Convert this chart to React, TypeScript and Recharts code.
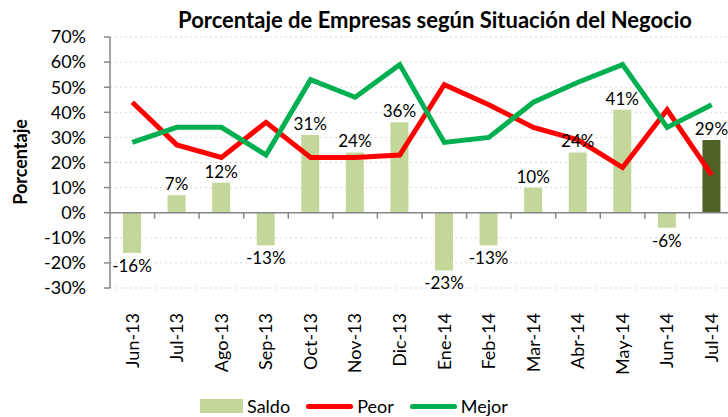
import React from "react";
import {
  ComposedChart,
  Bar,
  Line,
  XAxis,
  YAxis,
  CartesianGrid,
  Legend,
  LabelList,
  Cell,
  ReferenceLine,
} from "recharts";

const months = [
  "Jun-13", "Jul-13", "Ago-13", "Sep-13", "Oct-13", "Nov-13", "Dic-13",
  "Ene-14", "Feb-14", "Mar-14", "Abr-14", "May-14", "Jun-14", "Jul-14",
];
const saldo = [-16, 7, 12, -13, 31, 24, 36, -23, -13, 10, 24, 41, -6, 29];
const peor = [44, 27, 22, 36, 22, 22, 23, 51, 43, 34, 29, 18, 41, 15];
const mejor = [28, 34, 34, 23, 53, 46, 59, 28, 30, 44, 52, 59, 34, 43];
const yTicks = [-30, -20, -10, 0, 10, 20, 30, 40, 50, 60, 70];

const data = months.map((m, i) => ({
  month: m,
  saldo: saldo[i],
  peor: peor[i],
  mejor: mejor[i],
}));

const FONT = "Lato, 'Noto Sans', sans-serif";
const SALDO = "#C4D79B";
const SALDO_LAST = "#4F6228";
const PEOR = "#FF0000";
const MEJOR = "#00B050";
const AXIS = "#868686";

function MonthTick({ x, y, payload }: any) {
  return (
    <text
      x={x}
      y={y}
      transform={`rotate(-90, ${x}, ${y})`}
      textAnchor="end"
      dy="0.35em"
      fontSize={18}
      fill="#000"
      fontFamily={FONT}
    >
      {payload.value}
    </text>
  );
}

function SaldoLabel({ x, y, width, height, value }: any) {
  const neg = value < 0;
  const cx = x + width / 2;
  // height is negative for bars below zero in recharts
  const top = Math.min(y, y + height);
  const bottom = Math.max(y, y + height);
  return (
    <text
      x={cx}
      y={neg ? bottom + 19 : top - 5}
      textAnchor="middle"
      fontSize={17}
      fill="#000"
      fontFamily={FONT}
    >
      {`${value}%`}
    </text>
  );
}

function ZeroAxis({ x1, y1, x2 }: any) {
  const step = (x2 - x1) / months.length;
  return (
    <g>
      <line x1={x1} y1={y1} x2={x2} y2={y1} stroke={AXIS} strokeWidth={1.5} />
      {months.map((_, i) => (
        <line
          key={i}
          x1={x1 + (i + 1) * step}
          y1={y1}
          x2={x1 + (i + 1) * step}
          y2={y1 + 6}
          stroke={AXIS}
          strokeWidth={1.5}
        />
      ))}
    </g>
  );
}

function LegendBox() {
  const item = { display: "flex", alignItems: "center", marginRight: 16 };
  const label = { fontSize: 18, marginLeft: 4, color: "#000" };
  return (
    <div style={{ display: "flex", paddingLeft: 200, height: 26, alignItems: "center", marginTop: 2, fontFamily: FONT }}>
      <div style={item}>
        <div style={{ width: 43, height: 14, background: SALDO }} />
        <span style={label}>Saldo</span>
      </div>
      <div style={item}>
        <div style={{ width: 47, height: 5, borderRadius: 3, background: PEOR }} />
        <span style={label}>Peor</span>
      </div>
      <div style={item}>
        <div style={{ width: 47, height: 5, borderRadius: 3, background: MEJOR }} />
        <span style={label}>Mejor</span>
      </div>
    </div>
  );
}

export default function App() {
  return (
    <div
      style={{
        position: "absolute",
        left: 0,
        top: 0,
        width: 728,
        height: 417,
        overflow: "hidden",
        background: "#fff",
        fontFamily: FONT,
      }}
    >
      <div
        style={{
          position: "absolute",
          left: 176,
          width: 518,
          top: 6,
          textAlign: "center",
          fontWeight: 700,
          fontSize: 22,
          whiteSpace: "nowrap",
          color: "#000",
        }}
      >
        Porcentaje de Empresas según Situación del Negocio
      </div>
      <div
        style={{
          position: "absolute",
          left: 20,
          top: 162,
          transform: "translate(-50%, -50%) rotate(-90deg)",
          fontWeight: 700,
          fontSize: 18,
          whiteSpace: "nowrap",
          color: "#000",
        }}
      >
        Porcentaje
      </div>
      <ComposedChart
        width={746}
        height={417}
        data={data}
        margin={{ top: 37, right: 12, bottom: 0, left: 0 }}
        barCategoryGap={0}
      >
        <CartesianGrid vertical={false} stroke="#D9D9D9" strokeDasharray="2 3" />
        <XAxis
          dataKey="month"
          height={103}
          axisLine={false}
          tickLine={false}
          tickSize={0}
          tickMargin={25}
          interval={0}
          tick={<MonthTick />}
        />
        <YAxis
          domain={[-30, 70]}
          ticks={yTicks}
          tickFormatter={(v) => `${v}%`}
          width={110}
          axisLine={{ stroke: AXIS, strokeWidth: 1.5 }}
          tickLine={{ stroke: AXIS, strokeWidth: 1.5 }}
          tickSize={6}
          tickMargin={18}
          tick={{ fontSize: 18, fill: "#000", fontFamily: FONT }}
          interval={0}
        />
        <ReferenceLine y={0} shape={<ZeroAxis />} />
        <Bar dataKey="saldo" name="Saldo" barSize={18} fill={SALDO} isAnimationActive={false}>
          {data.map((d, i) => (
            <Cell key={d.month} fill={i === data.length - 1 ? SALDO_LAST : SALDO} />
          ))}
          <LabelList dataKey="saldo" content={<SaldoLabel />} />
        </Bar>
        <Line
          type="linear"
          dataKey="peor"
          name="Peor"
          stroke={PEOR}
          strokeWidth={5}
          dot={false}
          isAnimationActive={false}
        />
        <Line
          type="linear"
          dataKey="mejor"
          name="Mejor"
          stroke={MEJOR}
          strokeWidth={5}
          dot={false}
          isAnimationActive={false}
        />
        <Legend
          verticalAlign="bottom"
          height={26}
          wrapperStyle={{ left: 0, width: 746 }}
          content={<LegendBox />}
        />
      </ComposedChart>
    </div>
  );
}
